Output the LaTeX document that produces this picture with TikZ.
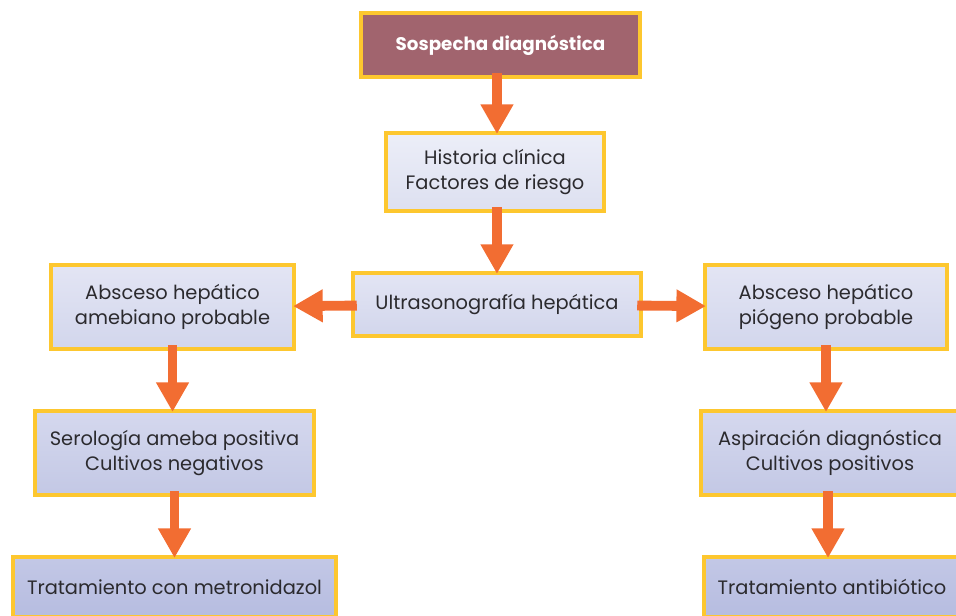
\documentclass[tikz,border=0pt]{standalone}
\usepackage{fontspec}
\setmainfont{Poppins}
\usetikzlibrary{arrows.meta, positioning}

\definecolor{boxgold}{HTML}{FDC72F}
\definecolor{arrowor}{HTML}{F26D32}
\definecolor{mauve}{HTML}{A1646E}
\definecolor{ink}{HTML}{2B2A2E}
\definecolor{rowaT}{HTML}{ECEEF8}
\definecolor{rowaB}{HTML}{DDE0F0}
\definecolor{rowbT}{HTML}{E3E5F4}
\definecolor{rowbB}{HTML}{D2D6EC}
\definecolor{rowcT}{HTML}{D5D8EE}
\definecolor{rowcB}{HTML}{C3C8E5}
\definecolor{rowdT}{HTML}{C3C8E6}
\definecolor{rowdB}{HTML}{B6BCE0}

\tikzstyle{stage} = [rectangle, draw=boxgold, line width=2.6pt, align=center, text=ink, inner sep=2pt, font=\fontsize{13.8}{17.5}\selectfont]
\tikzstyle{header} = [stage, fill=mauve, text=white, font=\fontsize{13}{15}\selectfont\bfseries]
\tikzstyle{row_a} = [top color=rowaT, bottom color=rowaB]
\tikzstyle{row_b} = [top color=rowbT, bottom color=rowbB]
\tikzstyle{row_c} = [top color=rowcT, bottom color=rowcB]
\tikzstyle{row_d} = [top color=rowdT, bottom color=rowdB]
\tikzstyle{flow} = [draw=arrowor, line width=7pt, -{Triangle[width=22pt, length=21pt]}, shorten <=-4pt, shorten >=-2pt]

\begin{document}
\begin{tikzpicture}[x=0.025cm, y=-0.025cm]

    \useasboundingbox (0,0) rectangle (956,616);

    \node (suspect) [header, minimum width=6.98cm, minimum height=1.6cm] at (500.5,45) {Sospecha diagnóstica};
    \node (history) [stage, row_a, minimum width=5.45cm, minimum height=1.95cm] at (495,172) {Historia clínica\\Factores de riesgo};
    \node (ultra) [stage, row_b, minimum width=7.2cm, minimum height=1.58cm] at (497,304.5) {Ultrasonografía hepática};

    \node (amebic) [stage, row_b, minimum width=6.08cm, minimum height=2.1cm] at (172.5,307) {Absceso hepático\\amebiano probable};
    \node (pyogenic) [stage, row_b, minimum width=6.05cm, minimum height=2.1cm] at (826,307) {Absceso hepático\\piógeno probable};

    \node (serology) [stage, row_c, minimum width=6.98cm, minimum height=2.1cm] at (174.5,453) {Serología ameba positiva\\Cultivos negativos};
    \node (aspiration) [stage, row_c, minimum width=6.45cm, minimum height=2.1cm] at (830,453) {Aspiración diagnóstica\\Cultivos positivos};

    \node (metro) [stage, row_d, minimum width=8.08cm, minimum height=1.5cm] at (174.5,587) {Tratamiento con metronidazol};
    \node (antibio) [stage, row_d, minimum width=6.4cm, minimum height=1.5cm] at (832,587) {Tratamiento antibiótico};

    \draw [flow] ([xshift=1.4pt]suspect.south -| history) -- ([xshift=1.4pt]history.north);
    \draw [flow] ([xshift=1.4pt]history.south) -- ([xshift=1.4pt]history.south |- ultra.north);
    \draw [flow] (ultra) -- (amebic);
    \draw [flow] (ultra) -- (pyogenic);

    \draw [flow] ([xshift=-1.4pt]amebic.south -| serology.north) -- ([xshift=-1.4pt]serology.north);
    \draw [flow] (serology) -- (serology |- metro.north);
    \draw [flow] (pyogenic) -- (pyogenic |- aspiration.north);
    \draw [flow] ([xshift=-1.4pt]aspiration.south) -- ([xshift=-1.4pt]aspiration |- antibio.north);

\end{tikzpicture}
\end{document}
